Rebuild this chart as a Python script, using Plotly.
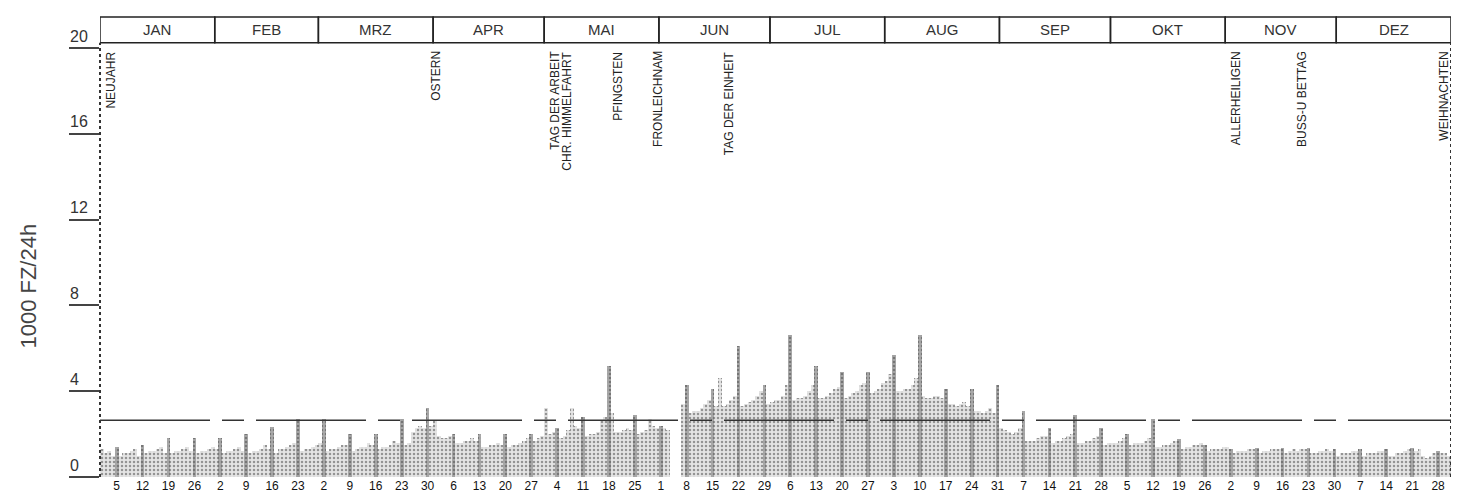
import plotly.graph_objects as go
import pandas as pd

# Tageswerte 1975 (1000 Fz/24h)
jan = [1.3, 1.1, 1.2, 1.0, 1.4, 1.0, 1.1, 1.1, 1.2, 1.3, 1.0, 1.5, 1.1, 1.2, 1.2, 1.3,
       1.4, 1.1, 1.8, 1.1, 1.2, 1.2, 1.3, 1.4, 1.2, 1.8, 1.1, 1.2, 1.2, 1.3, 1.4]
feb = [1.3, 1.8, 1.1, 1.2, 1.2, 1.3, 1.4, 1.2, 2.0, 1.1, 1.2, 1.2, 1.3, 1.5, 1.3, 2.35,
       1.1, 1.3, 1.3, 1.4, 1.5, 1.6, 2.7, 1.2, 1.3, 1.3, 1.4, 1.5]
mrz = [1.6, 2.7, 1.2, 1.3, 1.3, 1.4, 1.5, 1.5, 2.0, 1.2, 1.3, 1.4, 1.4, 1.6, 1.5, 2.0,
       1.3, 1.4, 1.4, 1.5, 1.7, 1.6, 2.7, 1.5, 1.6, 2.1, 2.3, 2.4, 2.3, 3.2, 2.4]
apr = [2.6, 1.9, 1.8, 1.8, 1.9, 2.0, 1.6, 1.6, 1.7, 1.7, 1.8, 1.7, 2.0, 1.4, 1.4, 1.5,
       1.5, 1.6, 1.5, 2.0, 1.4, 1.5, 1.5, 1.6, 1.7, 1.8, 2.0, 1.7, 1.8, 1.9]
mai = [3.2, 2.0, 2.1, 2.3, 1.8, 1.9, 2.2, 3.2, 2.4, 2.3, 2.8, 1.9, 2.0, 2.0, 2.1, 2.6,
       2.8, 5.2, 3.0, 2.1, 2.1, 2.2, 2.3, 2.2, 2.9, 2.0, 2.1, 2.2, 2.7, 2.4, 2.3]
jun = [2.4, 2.3, 2.2, None, None, None, 3.4, 4.3, 3.0, 3.1, 3.1, 3.2, 3.4, 3.6, 4.1, 3.3,
       4.6, 3.3, 3.4, 3.6, 3.8, 6.1, 3.3, 3.4, 3.5, 3.6, 3.8, 4.0, 4.3, 3.4]
jul = [3.5, 3.6, 3.6, 3.8, 4.3, 6.6, 3.6, 3.7, 3.7, 3.8, 4.0, 4.3, 5.2, 3.7, 3.7, 3.8,
       3.9, 4.1, 4.2, 4.9, 3.7, 3.8, 3.9, 4.0, 4.3, 4.4, 4.9, 3.9, 4.0, 4.1, 4.4]
aug = [4.5, 4.8, 5.7, 4.0, 4.0, 4.1, 4.1, 4.3, 4.6, 6.6, 3.8, 3.7, 3.7, 3.8, 3.8, 3.7,
       4.1, 3.4, 3.4, 3.3, 3.4, 3.5, 3.3, 4.1, 3.1, 3.1, 3.0, 3.1, 3.2, 3.0, 4.3]
sep = [2.3, 2.2, 2.1, 2.0, 2.1, 2.3, 3.1, 1.7, 1.7, 1.7, 1.8, 1.9, 1.9, 2.3, 1.6, 1.7,
       1.7, 1.8, 1.9, 2.0, 2.9, 1.6, 1.6, 1.7, 1.7, 1.8, 1.9, 2.3, 1.5, 1.6]
okt = [1.6, 1.6, 1.7, 1.8, 2.0, 1.5, 1.6, 1.6, 1.6, 1.7, 1.8, 2.7, 1.4, 1.4, 1.5, 1.5,
       1.6, 1.7, 1.75, 1.3, 1.4, 1.4, 1.5, 1.5, 1.6, 1.5, 1.2, 1.3, 1.3, 1.3, 1.4]
nov = [1.4, 1.3, 1.1, 1.2, 1.2, 1.2, 1.3, 1.3, 1.35, 1.1, 1.2, 1.2, 1.3, 1.3, 1.3, 1.35,
       1.1, 1.2, 1.3, 1.2, 1.3, 1.3, 1.35, 1.1, 1.1, 1.2, 1.2, 1.3, 1.2, 1.3]
dez = [1.0, 1.1, 1.1, 1.1, 1.2, 1.2, 1.3, 1.0, 1.1, 1.1, 1.1, 1.2, 1.2, 1.3, 1.0, 1.0,
       1.1, 1.1, 1.2, 1.3, 1.35, 1.2, 1.3, 1.0, 0.9, 1.0, 1.1, 1.2, 1.1, 1.1, 1.0]

werte = jan + feb + mrz + apr + mai + jun + jul + aug + sep + okt + nov + dez
tage = pd.date_range("1975-01-01", "1975-12-31", freq="D")

monate = ["JAN", "FEB", "MRZ", "APR", "MAI", "JUN", "JUL", "AUG", "SEP", "OKT", "NOV", "DEZ"]

feiertage = [("1975-01-01", "NEUJAHR"), ("1975-03-30", "OSTERN"),
             ("1975-05-01", "TAG DER ARBEIT"), ("1975-05-08", "CHR. HIMMELFAHRT"),
             ("1975-05-18", "PFINGSTEN"), ("1975-05-29", "FRONLEICHNAM"),
             ("1975-06-17", "TAG DER EINHEIT"), ("1975-11-01", "ALLERHEILIGEN"),
             ("1975-11-19", "BUSS-U BETTAG"), ("1975-12-25", "WEIHNACHTEN")]
verschiebung = {"CHR. HIMMELFAHRT": -14, "WEIHNACHTEN": 8}

dtv = 2.65  # gestrichelte Linie (Jahresmittel)

# Sonntage dunkler wie im Druckbild
farben = ["#a8a8a8" if d.dayofweek == 6 else "#e4e4e4" for d in tage]

fig = go.Figure(go.Bar(
    x=tage, y=werte,
    marker=dict(color=farben, line_width=0,
                pattern=dict(shape=".", fgcolor="#2a2a2a", size=4, solidity=0.3,
                             fillmode="overlay")),
    hoverinfo="x+y"
))

shapes = []
annotations = []

# Monatskopf
for i, m in enumerate(monate):
    start = pd.Timestamp(1975, i + 1, 1) - pd.Timedelta(hours=12)
    ende = (pd.Timestamp(1975, i + 2, 1) if i < 11 else pd.Timestamp(1976, 1, 1)) - pd.Timedelta(hours=12)
    shapes.append(dict(type="rect", xref="x", yref="y", x0=start, x1=ende, y0=20.25, y1=21.45,
                       line=dict(color="#222", width=1.5)))
    annotations.append(dict(x=start + (ende - start) / 2, y=20.85, xref="x", yref="y",
                            text=m, showarrow=False,
                            font=dict(size=15, color="#333", family="Liberation Sans")))

# Feiertage
for datum, name in feiertage:
    annotations.append(dict(x=datum, y=19.95, xref="x", yref="y", text=name, showarrow=False,
                            textangle=-90, xanchor="left", yanchor="top",
                            xshift=verschiebung.get(name, 0),
                            font=dict(size=12, color="#222", family="Liberation Sans")))

# Y-Beschriftung
for v in [0, 4, 8, 12, 16, 20]:
    annotations.append(dict(x=-0.024, y=v, xref="paper", yref="y", text=str(v), showarrow=False,
                            yshift=12, font=dict(size=16, color="#333", family="Liberation Sans")))
annotations.append(dict(x=-0.053, y=8.9, xref="paper", yref="y", text="1000 FZ/24h",
                        showarrow=False, textangle=-90, xanchor="center",
                        font=dict(size=22, color="#444", family="Liberation Sans")))

# punktierte Raender und Mittelwertlinie
shapes.append(dict(type="line", xref="paper", yref="y", x0=0, x1=0, y0=0, y1=20.25,
                   line=dict(color="#333", width=2, dash="dot")))
shapes.append(dict(type="line", xref="paper", yref="y", x0=1, x1=1, y0=0, y1=20.25,
                   line=dict(color="#333", width=2, dash="dot")))
shapes.append(dict(type="line", xref="paper", yref="y", x0=0, x1=1, y0=dtv, y1=dtv,
                   line=dict(color="#333", width=1.5, dash="110px,12px,22px,12px")))

fig.update_layout(
    width=1459, height=493,
    margin=dict(l=92, r=16, t=8, b=22),
    paper_bgcolor="white", plot_bgcolor="white",
    bargap=0, showlegend=False,
    shapes=shapes, annotations=annotations,
    font=dict(family="Liberation Sans", color="#222"),
    xaxis=dict(type="date", range=["1974-12-31 12:00", "1975-12-31 12:00"],
               tick0="1975-01-05", dtick=7 * 86400000, tickformat="%-d",
               showgrid=False, showline=False, zeroline=False, ticks="",
               tickfont=dict(size=12, color="#111", family="Liberation Sans")),
    yaxis=dict(range=[0, 21.5], tickvals=[0, 4, 8, 12, 16, 20], showticklabels=False,
               ticks="outside", ticklen=30, tickwidth=1.5, tickcolor="#444",
               showgrid=False, showline=False, zeroline=False)
)

fig.write_html("out.html")
